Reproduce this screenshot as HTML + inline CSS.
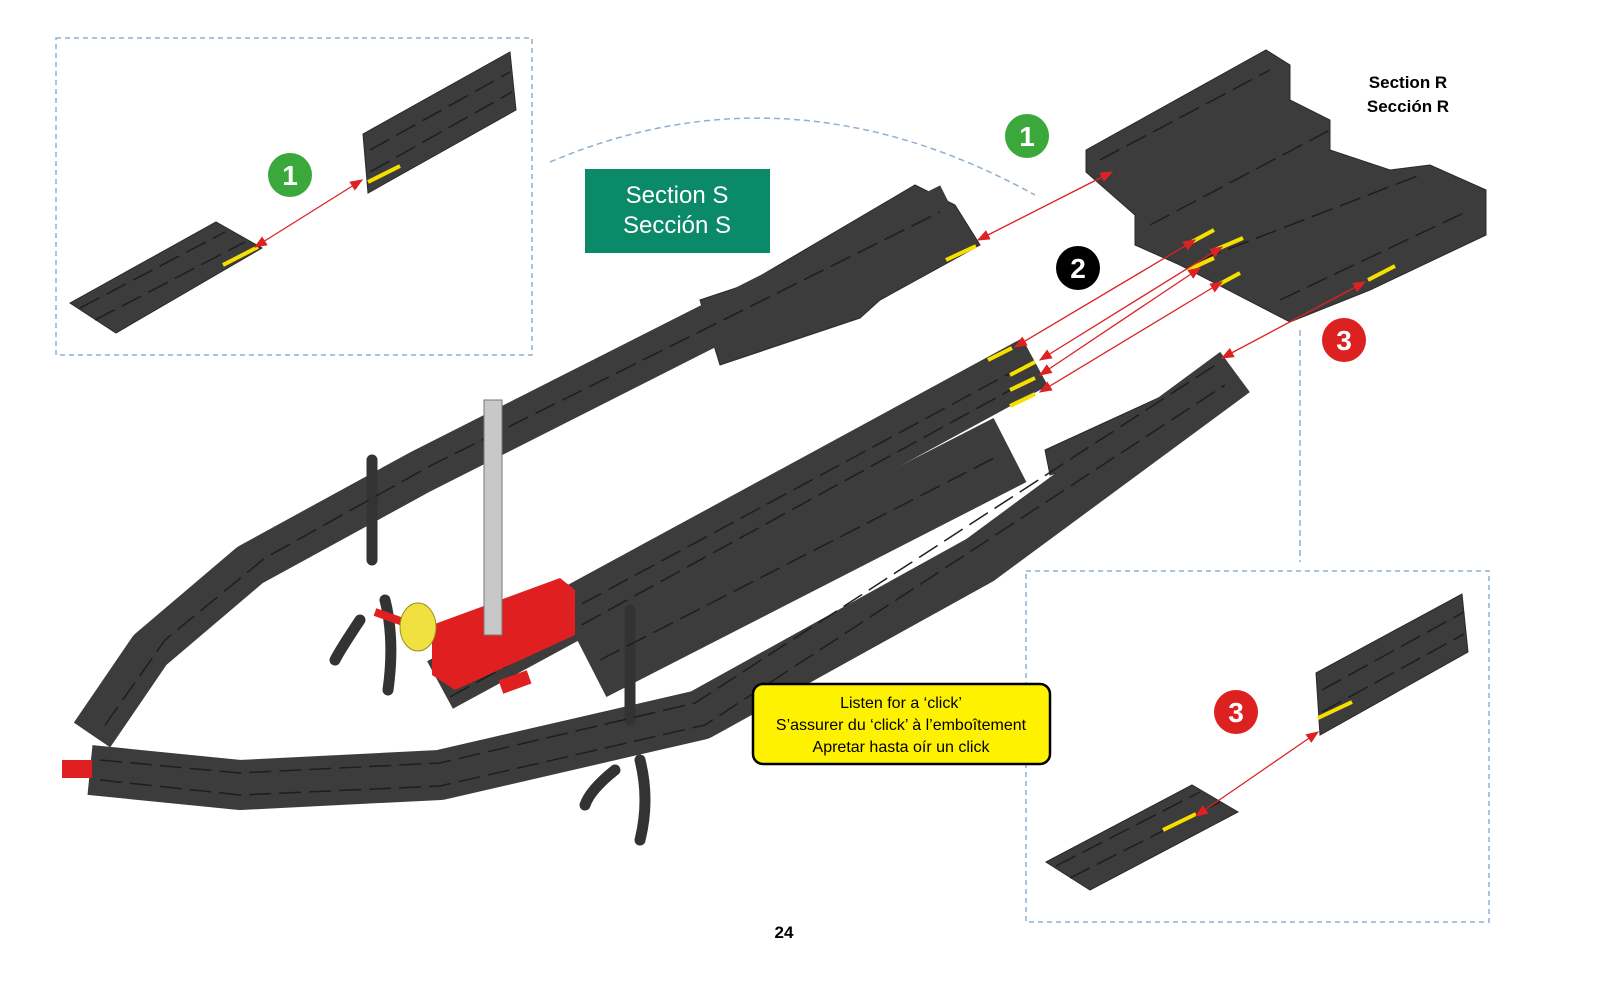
<!DOCTYPE html>
<html><head><meta charset="utf-8"><style>
html,body{margin:0;padding:0;background:#fff;width:1600px;height:1000px;overflow:hidden}
svg{display:block}
text{font-family:"Liberation Sans",sans-serif}
</style></head><body>
<svg width="1600" height="1000" viewBox="0 0 1600 1000" xmlns="http://www.w3.org/2000/svg">
<defs>
<marker id="ah" markerWidth="10" markerHeight="8" refX="9" refY="4" orient="auto-start-reverse"><path d="M0,0 L10,4 L0,8 z" fill="#d22"/></marker>
</defs>
<rect x="56" y="38" width="476" height="317" fill="none" stroke="#8fb0d0" stroke-width="1.5" stroke-dasharray="5,4"/>
<rect x="1026" y="571" width="463" height="351" fill="none" stroke="#8fb0d0" stroke-width="1.5" stroke-dasharray="5,4"/>
<path d="M550,162 Q790,60 1035,195" fill="none" stroke="#8fb0d0" stroke-width="1.5" stroke-dasharray="6,4"/>
<line x1="1300" y1="330" x2="1300" y2="562" stroke="#8fb0d0" stroke-width="1.5" stroke-dasharray="6,4"/>

<g fill="#3c3c3c" stroke="#2a2a2a" stroke-width="1">
<polygon points="70,303 216,222 262,248 116,333"/>
<polygon points="363,134 510,52 516,110 368,193"/>
<polygon points="1046,862 1192,785 1238,812 1090,890"/>
<polygon points="1316,673 1462,594 1468,652 1320,735"/>
<polygon points="1086,150 1266,50 1290,65 1290,100 1330,120 1330,150 1390,170 1430,165 1486,190 1486,235 1370,290 1290,322 1180,265 1135,245 1135,215 1086,172"/>
<polygon points="745,285 915,185 955,205 980,245 880,300 860,318 720,365 700,300"/>
<polygon points="1045,450 1180,388 1185,430 1050,475"/>
</g>
<g fill="none" stroke="#3c3c3c" stroke-linejoin="round" stroke-linecap="butt">
<polyline points="92,735 150,650 250,565 420,472 760,300 950,205" stroke-width="44"/>
<polyline points="440,685 1035,362" stroke-width="54"/>
<polyline points="90,770 240,785 440,775 700,715 980,560 1235,372" stroke-width="50"/>
<polyline points="590,665 1010,450" stroke-width="72"/>
<path d="M372,460 L372,560 M360,620 Q340,650 335,660 M385,600 Q395,640 388,690" stroke="#333" stroke-width="11" stroke-linecap="round"/>
<path d="M630,610 L630,720 M615,770 Q590,790 585,805 M640,760 Q650,800 640,840" stroke="#333" stroke-width="11" stroke-linecap="round"/>
</g>
<g stroke="#1e1e1e" stroke-width="1.5" stroke-dasharray="22,8" fill="none">
<polyline points="105,725 165,640 265,558 430,466 940,212"/>
<polyline points="450,675 1025,365"/>
<polyline points="450,697 1025,382"/>
<polyline points="100,780 240,795 440,786 705,725 1225,385"/>
<polyline points="100,760 240,773 440,763 695,703 1220,362"/>
<line x1="600" y1="660" x2="1000" y2="455"/>
<line x1="1100" y1="160" x2="1270" y2="70"/>
<line x1="1150" y1="225" x2="1330" y2="130"/>
<line x1="1200" y1="260" x2="1420" y2="175"/>
<line x1="1280" y1="300" x2="1470" y2="210"/>
<line x1="80" y1="308" x2="225" y2="232"/>
<line x1="95" y1="320" x2="245" y2="242"/>
<line x1="1056" y1="866" x2="1200" y2="792"/>
<line x1="1070" y1="878" x2="1220" y2="802"/>
<line x1="370" y1="150" x2="510" y2="72"/>
<line x1="370" y1="172" x2="512" y2="92"/>
<line x1="1322" y1="690" x2="1464" y2="612"/>
<line x1="1322" y1="712" x2="1464" y2="634"/>
</g>
<polygon points="432,625 560,578 575,590 575,635 455,690 432,675" fill="#e02020"/>
<rect x="500" y="675" width="30" height="14" fill="#e02020" transform="rotate(-20 515 682)"/>
<line x1="375" y1="612" x2="440" y2="635" stroke="#e02020" stroke-width="8"/>
<ellipse cx="418" cy="627" rx="18" ry="24" fill="#f0e040" stroke="#9a9020"/>
<rect x="484" y="400" width="18" height="235" fill="#c8c8c8" stroke="#777"/>
<rect x="62" y="760" width="30" height="18" fill="#e02020"/>
<g stroke="#f5e000" stroke-width="4">
<line x1="223" y1="265" x2="258" y2="247"/>
<line x1="368" y1="182" x2="400" y2="166"/>
<line x1="946" y1="260" x2="976" y2="246"/>
<line x1="1188" y1="244" x2="1214" y2="230"/>
<line x1="1215" y1="250" x2="1243" y2="238"/>
<line x1="1188" y1="270" x2="1214" y2="258"/>
<line x1="1214" y1="287" x2="1240" y2="273"/>
<line x1="1368" y1="280" x2="1395" y2="266"/>
<line x1="988" y1="360" x2="1012" y2="348"/>
<line x1="1010" y1="375" x2="1035" y2="362"/>
<line x1="1010" y1="390" x2="1035" y2="378"/>
<line x1="1010" y1="406" x2="1035" y2="394"/>
<line x1="1163" y1="830" x2="1196" y2="814"/>
<line x1="1318" y1="718" x2="1352" y2="702"/>
</g>
<g stroke="#d22" stroke-width="1.3" marker-start="url(#ah)" marker-end="url(#ah)">
<line x1="255" y1="247" x2="362" y2="180"/>
<line x1="978" y1="240" x2="1112" y2="172"/>
<line x1="1015" y1="347" x2="1195" y2="240"/>
<line x1="1040" y1="360" x2="1222" y2="247"/>
<line x1="1040" y1="375" x2="1200" y2="268"/>
<line x1="1040" y1="392" x2="1222" y2="282"/>
<line x1="1222" y1="358" x2="1365" y2="282"/>
<line x1="1196" y1="816" x2="1318" y2="732"/>
</g>
<g font-family="Liberation Serif,serif" font-size="28" font-weight="bold" text-anchor="middle" fill="#fff">
<circle cx="290" cy="175" r="22" fill="#3aa83a"/><text x="290" y="185">1</text>
<circle cx="1027" cy="136" r="22" fill="#3aa83a"/><text x="1027" y="146">1</text>
<circle cx="1078" cy="268" r="22" fill="#000"/><text x="1078" y="278">2</text>
<circle cx="1344" cy="340" r="22" fill="#dd2020"/><text x="1344" y="350">3</text>
<circle cx="1236" cy="712" r="22" fill="#dd2020"/><text x="1236" y="722">3</text>
</g>
<rect x="585" y="169" width="185" height="84" fill="#0a8a68"/>
<text x="677" y="203" font-size="24" fill="#fff" text-anchor="middle">Section S</text>
<text x="677" y="233" font-size="24" fill="#fff" text-anchor="middle">Sección S</text>
<text x="1408" y="88" font-size="17" font-weight="bold" text-anchor="middle">Section R</text>
<text x="1408" y="112" font-size="17" font-weight="bold" text-anchor="middle">Sección R</text>
<rect x="753" y="684" width="297" height="80" rx="10" fill="#fff200" stroke="#000" stroke-width="2.5"/>
<g font-size="16" text-anchor="middle"><text x="901" y="708">Listen for a ‘click’</text><text x="901" y="730">S’assurer du ‘click’ à l’emboîtement</text><text x="901" y="752">Apretar hasta oír un click</text></g>
<text x="784" y="938" font-size="17" font-weight="bold" text-anchor="middle" font-family="Liberation Serif,serif">24</text>
</svg>
</body></html>
